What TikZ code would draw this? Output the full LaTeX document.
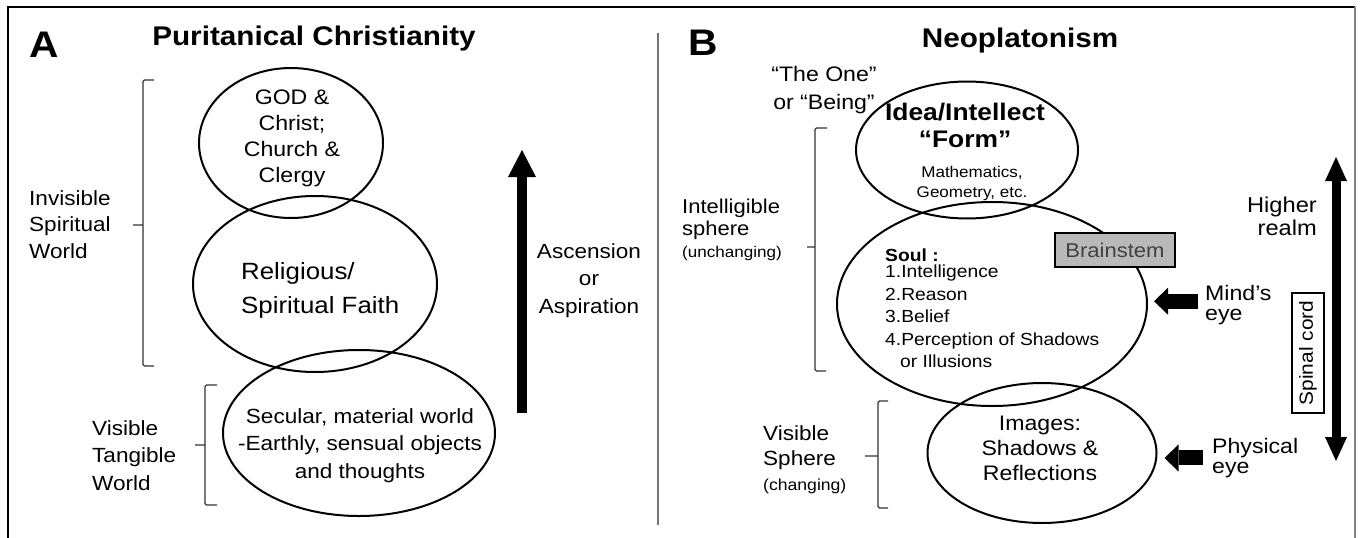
\documentclass[tikz,border=0pt]{standalone}
\usepackage{fontspec}
\setmainfont{Liberation Sans}[FakeStretch=1.1]
\usepackage{tikz}
\usetikzlibrary{arrows.meta}
\usetikzlibrary{shapes.geometric}

\begin{document}
\begin{tikzpicture}[x=1pt, y=-1pt,
oval/.style={ellipse, draw, line width=2pt, inner sep=0pt},
txt/.style={inner sep=0pt, font=\fontsize{20.5}{27.5}\selectfont},
heading/.style={inner sep=0pt, font=\bfseries\fontsize{27}{30}\selectfont, anchor=base},
panel/.style={inner sep=0pt, font=\bfseries\fontsize{37}{40}\selectfont, anchor=base west},
brace/.style={draw=black!80, line width=1.3pt, rounded corners=1.5pt},
fatarrow/.style={line width=10pt, -{Triangle[width=28pt, length=27pt, line width=0pt]}},
realmarrow/.style={line width=9pt, {Triangle[width=22pt, length=24pt, line width=0pt]}-{Triangle[width=22pt, length=24pt, line width=0pt]}},
eyearrow/.style={line width=15pt, -{Triangle[width=27pt, length=14pt, line width=0pt]}},
]
\path[use as bounding box, fill=white] (0,0) rectangle (1360,538);
% frame and divider
\draw[line width=2pt] (8,538) -- (8,7) -- (1355,7);
\draw[gray, line width=1.2pt] (1355,7) -- (1355,538);
\draw[black!55, line width=1.5pt] (658,33) -- (658,525);

%Nodes
\node[panel] (panel_a) at (29,57) {A};
\node[heading] (title_a) at (314,45) {Puritanical Christianity};
\node[panel] (panel_b) at (688,55) {B};
\node[heading] (title_b) at (1020,47) {Neoplatonism};

% left: Puritanical Christianity
\node[oval, minimum width=184pt, minimum height=150pt] (god) at (291,143) {};
\node[oval, minimum width=244pt, minimum height=176pt] (faith) at (315,284) {};
\node[oval, minimum width=272pt, minimum height=166pt] (secular) at (359,433) {};
\node[txt, font=\fontsize{21}{26}\selectfont, align=center, anchor=north] (god_text) at (292,89.5) {GOD \&\\Christ;\\Church \&\\Clergy};
\node[txt, font=\fontsize{23.5}{34}\selectfont, align=left, anchor=north west] (faith_text) at (241,262) {Religious/\\Spiritual Faith};
\node[txt, align=center, anchor=north] (secular_text) at (360,408) {Secular, material world\\-Earthly, sensual objects\\and thoughts};
\node[txt, font=\fontsize{20.5}{26.5}\selectfont, align=left, anchor=north west] (invisible) at (29,190) {Invisible\\Spiritual\\World};
\node[txt, align=left, anchor=north west] (tangible) at (92,420) {Visible\\Tangible\\World};
\node[txt, align=center, anchor=north] (ascension) at (589,243) {Ascension\\or\\Aspiration};

% right: Neoplatonism
\node[oval, minimum width=222pt, minimum height=137pt] (idea) at (967,150) {};
\node[oval, minimum width=310pt, minimum height=204pt] (soul) at (992,304) {};
\node[oval, minimum width=229pt, minimum height=140pt] (images) at (1042,453) {};
\node[txt, font=\fontsize{21}{28}\selectfont, align=center, anchor=north] (the_one) at (824,66) {“The One”\\or “Being”};
\node[txt, font=\bfseries\fontsize{24}{27}\selectfont, align=center, anchor=north] (idea_title) at (965,103) {Idea/Intellect\\“Form”};
\node[txt, font=\fontsize{15.5}{20}\selectfont, align=center, anchor=north] (idea_detail) at (972,166) {Mathematics,\\Geometry, etc.};
\node[txt, font=\fontsize{20}{22}\selectfont, align=left, anchor=north west] (intelligible) at (682,199) {Intelligible\\sphere\\{\fontsize{15.5}{22}\selectfont (unchanging)}};
\node[txt, font=\fontsize{17.5}{22.5}\selectfont, align=left, anchor=north west] (soul_text) at (885,249) {\textbf{Soul :}\\[-6.5pt]1.Intelligence\\2.Reason\\3.Belief\\4.Perception of Shadows\\\hspace*{15pt}or Illusions};
\node[draw, fill=gray!55, line width=1.2pt, minimum width=120pt, minimum height=34pt, inner sep=0pt, text=black!75, font=\fontsize{20}{24}\selectfont] (brainstem) at (1115,250) {Brainstem};
\node[txt, font=\fontsize{21}{19.5}\selectfont, align=left, anchor=north west] (minds_eye) at (1205,285.5) {Mind’s\\eye};
\node[txt, font=\fontsize{21}{20}\selectfont, align=left, anchor=north west] (physical_eye) at (1212,438) {Physical\\eye};
\node[txt, font=\fontsize{21.5}{23}\selectfont, align=right, anchor=north east] (higher) at (1317,197) {Higher\\realm};
\node[txt, font=\fontsize{21}{25}\selectfont, align=center, anchor=north] (images_text) at (1040,416) {Images:\\Shadows \&\\Reflections};
\node[txt, align=left, anchor=north west, font=\fontsize{20.5}{25}\selectfont] (visible) at (763,425) {Visible\\Sphere\\{\fontsize{16}{25}\selectfont (changing)}};
\node[draw, line width=1.2pt, rotate=90, minimum width=120pt, minimum height=32pt, inner sep=0pt, font=\fontsize{19}{22}\selectfont] (spinal) at (1308,353) {Spinal cord};

%Lines
\draw[brace] (154,80) -- (143,80) -- (143,366) -- (154,366) (143,225) -- (133,225);
\draw[brace] (217,385) -- (205,385) -- (205,505) -- (217,505) (205,445) -- (195,445);
\draw[brace] (827,128) -- (815,128) -- (815,371) -- (826,371) (815,247) -- (807,247);
\draw[brace] (888,401) -- (878,401) -- (878,508) -- (888,508) (878,456) -- (865,456);

\coordinate (asc_bottom) at (522,413);
\coordinate (asc_top) at (522,150);
\draw[fatarrow] (asc_bottom) -- (asc_top);
\coordinate (realm_top) at (1336,157);
\coordinate (realm_bottom) at (1336,461);
\draw[realmarrow] (realm_top) -- (realm_bottom);
\draw[eyearrow, shorten <=7pt, shorten >=6pt] ([yshift=4pt]minds_eye.west) -- ([yshift=4pt]minds_eye.west -| soul.east);
\draw[eyearrow, shorten <=9pt, shorten >=7pt] (physical_eye.west) -- (physical_eye.west -| images.east);
\end{tikzpicture}
\end{document}
